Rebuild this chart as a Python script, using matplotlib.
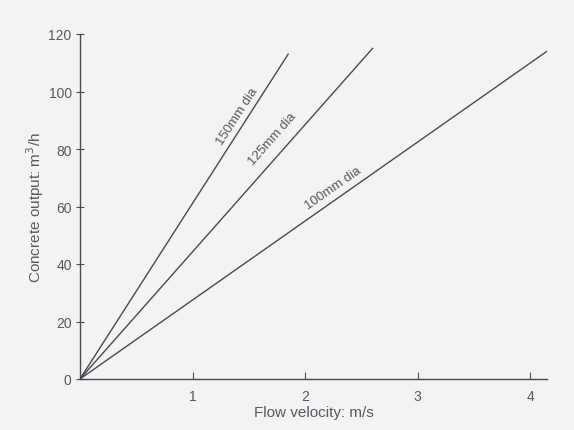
import matplotlib
matplotlib.use("Agg")
import matplotlib.pyplot as plt

plt.rcParams['font.family'] = ['Liberation Sans', 'DejaVu Sans']

series = ["150mm dia", "125mm dia", "100mm dia"]
velocity_ends = [1.85, 2.60, 4.15]
output_ends = [113, 115, 114]
label_pos = [(1.40, 91.5), (1.71, 83.5), (2.25, 66.5)]
label_rot = [57, 48.5, 35]

xticks = [1, 2, 3, 4]
yticks = [0, 20, 40, 60, 80, 100, 120]

fig = plt.figure(figsize=(5.74, 4.31), dpi=100)
bg = '#f3f3f5'
fig.patch.set_facecolor(bg)
ax = fig.add_axes([80/574, 51/431, 467/574, 345/431])
ax.set_facecolor(bg)

col = '#4a4a4e'
tcol = '#58585c'
for name, xe, ye, (lx, ly), rot in zip(series, velocity_ends, output_ends, label_pos, label_rot):
    ax.plot([0, xe], [0, ye], color=col, lw=1.0)
    ax.text(lx, ly, name, rotation=rot, ha='center', va='center', fontsize=9.5,
            color=tcol, rotation_mode='anchor')

ax.set_xlim(0, 4.15)
ax.set_ylim(0, 120)
ax.set_xticks(xticks)
ax.set_yticks(yticks)
ax.spines['top'].set_visible(False)
ax.spines['right'].set_visible(False)
for s in ['left', 'bottom']:
    ax.spines[s].set_color(col)
    ax.spines[s].set_linewidth(1.0)
ax.tick_params(axis='x', direction='in', length=5, colors=col, labelcolor=tcol, labelsize=10, pad=7)
ax.tick_params(axis='y', direction='inout', length=6, colors=col, labelcolor=tcol, labelsize=10, pad=3)
ax.set_xlabel('Flow velocity: m/s', fontsize=11, color=tcol, labelpad=2)
ax.set_ylabel('Concrete output: m$^3$/h', fontsize=11, color=tcol, labelpad=2)

fig.savefig('out.png', dpi=100, facecolor=bg)
